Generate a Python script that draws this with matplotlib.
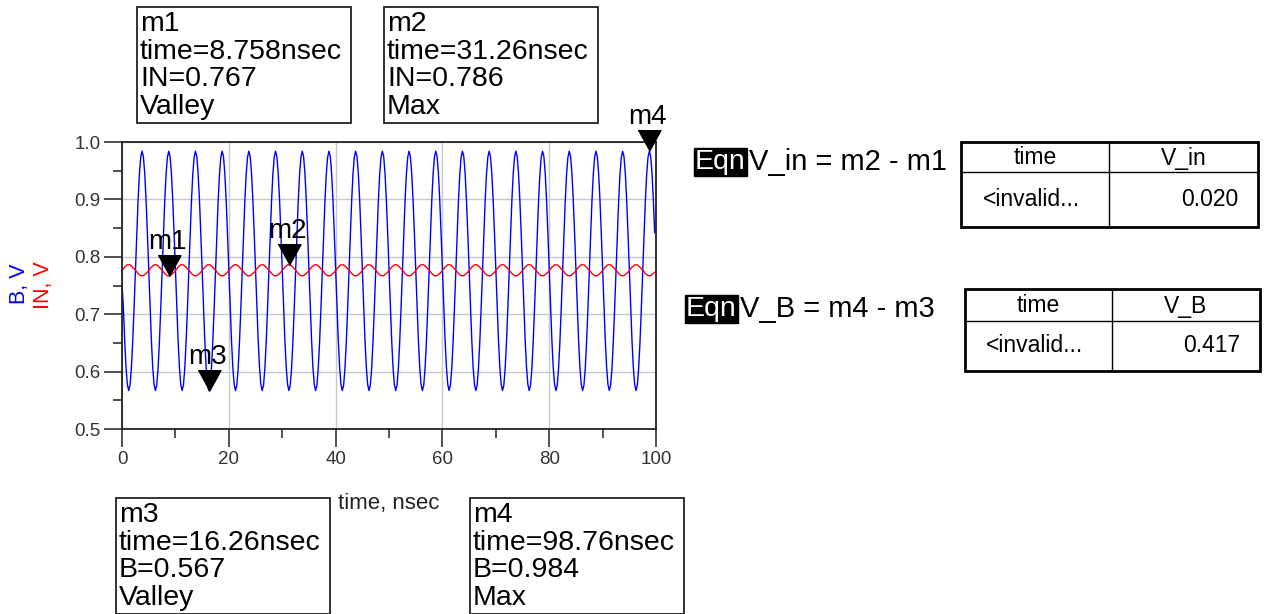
import numpy as np
import matplotlib.pyplot as plt
from matplotlib.patches import Rectangle

plt.rcParams['font.family'] = ['Liberation Sans', 'DejaVu Sans']

b_cycle = [0.778, 0.714, 0.655, 0.608, 0.578, 0.567, 0.576, 0.605, 0.651, 0.709,
           0.773, 0.837, 0.896, 0.943, 0.973, 0.984, 0.975, 0.946, 0.900, 0.842]
in_cycle = [0.776, 0.779, 0.782, 0.784, 0.786, 0.786, 0.786, 0.784, 0.782, 0.779,
            0.777, 0.774, 0.771, 0.769, 0.767, 0.767, 0.767, 0.769, 0.771, 0.773]
n_cycles = 20
dt = 0.25
b_start = 0.752

t = np.arange(len(b_cycle) * n_cycles) * dt
B = np.tile(b_cycle, n_cycles)
B[0] = b_start
IN = np.tile(in_cycle, n_cycles)

# markers
mk_names = ['m1', 'm2', 'm3', 'm4']
mk_time = [8.758, 31.26, 16.26, 98.76]
mk_val = [0.767, 0.786, 0.567, 0.984]
mk_trace = ['IN', 'IN', 'B', 'B']
mk_kind = ['Valley', 'Max', 'Valley', 'Max']

V_in = 0.020
V_B = 0.417

W, H = 1267, 614
fig = plt.figure(figsize=(W / 100, H / 100), dpi=100)


def fx(x):
    return x / W


def fy(y):
    return 1 - y / H


ax = fig.add_axes([fx(122), fy(429), fx(656) - fx(122), fy(142) - fy(429)])
ax.plot(t, B, color='#0000ff', lw=1.0)
ax.plot(t, IN, color='#ff0000', lw=1.0)
ax.set_xlim(0, 100)
ax.set_ylim(0.5, 1.0)
ax.set_xticks(np.arange(0, 101, 20))
ax.set_xticks(np.arange(10, 100, 20), minor=True)
ax.set_yticks(np.arange(0.5, 1.01, 0.1))
ax.set_yticks(np.arange(0.55, 1.0, 0.1), minor=True)
ax.set_yticklabels(['%.1f' % v for v in np.arange(0.5, 1.01, 0.1)])
ax.tick_params(which='major', direction='out', length=13, width=1.2,
               labelsize=13.5, labelcolor='#333333', color='#333333', pad=2.5)
ax.tick_params(which='minor', direction='out', length=6.5, width=1.2, color='#333333')
ax.grid(True, which='major', color='#c8c8c8', lw=1.0)
for s in ax.spines.values():
    s.set_color('#222222')
    s.set_linewidth(1.3)

# marker triangles with tip on the data point
tri = [(-0.55, 1.0), (0.55, 1.0), (0.0, 0.0)]
for name, x, y in zip(mk_names, mk_time, mk_val):
    ax.plot([x], [y], marker=tri, markersize=30, color='black', clip_on=False, zorder=5)
    ax.annotate(name, (x, y), xytext=(-1, 24.5), textcoords='offset points',
                ha='center', va='center', fontsize=20, annotation_clip=False)

# y label, two colours
fig.text(fx(19), fy(284), 'B, V', color='#0000ff', rotation=90, fontsize=15.5,
         ha='center', va='center')
fig.text(fx(43), fy(285), 'IN, V', color='#ff0000', rotation=90, fontsize=15.5,
         ha='center', va='center')
fig.text(fx(389), fy(503), 'time, nsec', fontsize=16, ha='center', va='center',
         color='#222222')

# marker readout boxes
box_pos = [(137, 7), (384, 7), (116, 498), (470, 498)]
for (bx, by), name, x, y, tr, kind in zip(box_pos, mk_names, mk_time, mk_val,
                                          mk_trace, mk_kind):
    fig.patches.append(Rectangle((fx(bx), fy(by + 116)), fx(214), 116 / H,
                                 transform=fig.transFigure, fill=False,
                                 ec='#222222', lw=1.3))
    lines = [name, 'time=%snsec' % x, '%s=%.3f' % (tr, y), kind]
    for i, s in enumerate(lines):
        fig.text(fx(bx + 3), fy(by + 17 + i * 27.6), s, fontsize=20.5,
                 ha='left', va='center')

# equations
eqns = [('V_in = m2 - m1', 694, 162), ('V_B = m4 - m3', 685, 309)]
for s, ex, ey in eqns:
    fig.text(fx(ex + 1), fy(ey), 'Eqn', color='white', fontsize=20.5, ha='left',
             va='center', bbox=dict(facecolor='black', edgecolor='black', pad=0.8))
    fig.text(fx(ex + 55), fy(ey), s, fontsize=21, ha='left', va='center')

# result tables
tables = [(961, 142, 1258, 227, 1109, 172, 'V_in', V_in),
          (965, 289, 1260, 371, 1112, 321, 'V_B', V_B)]
for x0, y0, x1, y1, xc, yr, col, val in tables:
    fig.patches.append(Rectangle((fx(x0), fy(y1)), fx(x1 - x0), (y1 - y0) / H,
                                 transform=fig.transFigure, fill=False,
                                 ec='black', lw=2))
    fig.add_artist(plt.Line2D([fx(xc), fx(xc)], [fy(y0), fy(y1)], color='black', lw=1))
    fig.add_artist(plt.Line2D([fx(x0), fx(x1)], [fy(yr), fy(yr)], color='black', lw=1))
    fig.text(fx((x0 + xc) / 2), fy((y0 + yr) / 2 + 1), 'time', fontsize=16.5,
             ha='center', va='center')
    fig.text(fx((xc + x1) / 2), fy((y0 + yr) / 2 + 1), col, fontsize=16.5,
             ha='center', va='center')
    fig.text(fx((x0 + xc) / 2 - 4), fy((yr + y1) / 2), '<invalid...', fontsize=16.5,
             ha='center', va='center')
    fig.text(fx(x1 - 20), fy((yr + y1) / 2), '%.3f' % val, fontsize=16.5,
             ha='right', va='center')

fig.savefig('out.png', dpi=100)
